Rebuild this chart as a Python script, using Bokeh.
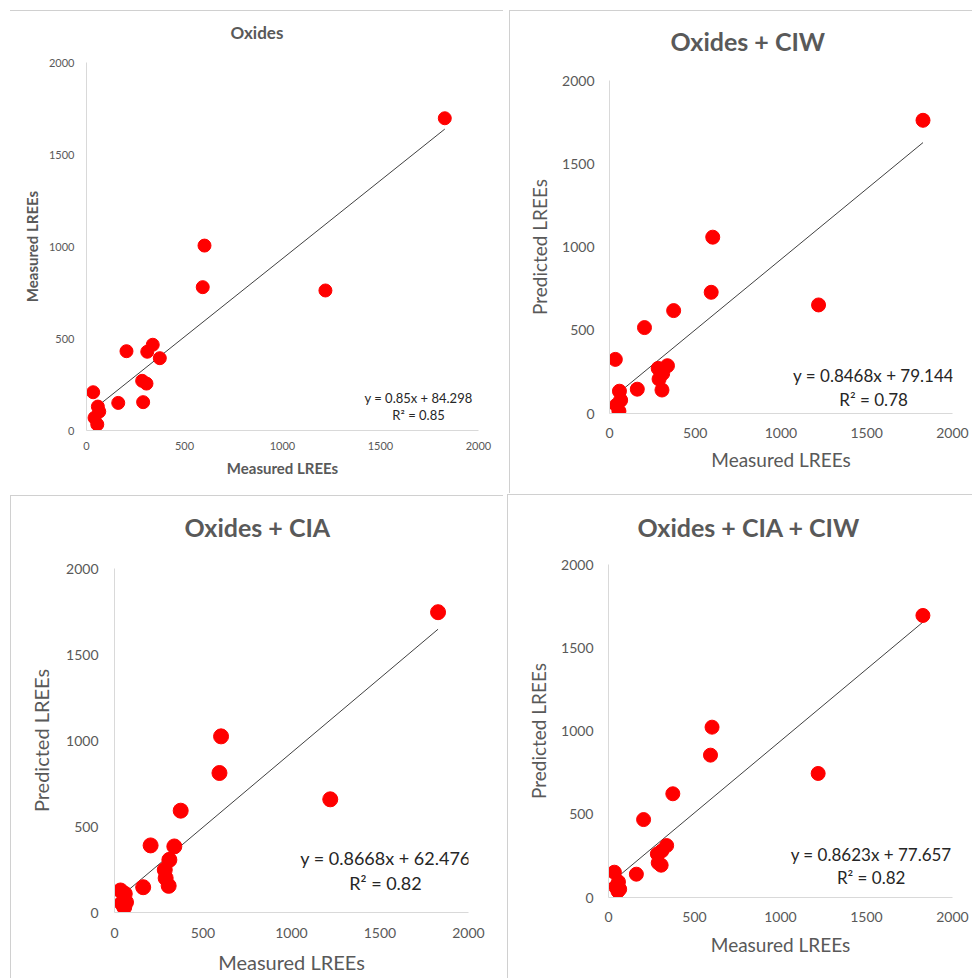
from bokeh.plotting import figure
from bokeh.models import Range1d, FixedTicker, Label, ColumnDataSource, Title
from bokeh.embed import file_html
from bokeh.resources import INLINE

# ---------------- data ----------------
measured = [34, 41, 55, 58, 65, 162, 204, 284, 289, 306, 310, 338, 374, 593, 602, 1219, 1828]
pred_oxides = [208, 69, 33, 130, 103, 150, 431, 270, 154, 255, 428, 466, 393, 779, 1005, 761, 1697]
pred_oxides_ciw = [325, 50, 14, 134, 80, 146, 516, 271, 207, 141, 240, 287, 618, 728, 1059, 652, 1761]
pred_oxides_cia = [128, 54, 31, 109, 60, 147, 390, 248, 200, 155, 306, 384, 592, 811, 1024, 658, 1746]
pred_oxides_cia_ciw = [152, 64, 38, 94, 50, 140, 468, 262, 208, 194, 280, 312, 623, 855, 1023, 745, 1694]

titles = ["Oxides", "Oxides + CIW", "Oxides + CIA", "Oxides + CIA + CIW"]
slopes = [0.85, 0.8468, 0.8668, 0.8623]
intercepts = [84.298, 79.144, 62.476, 77.657]
equations = ["y = 0.85x + 84.298", "y = 0.8468x + 79.144", "y = 0.8668x + 62.476", "y = 0.8623x + 77.657"]
r_squared = ["R² = 0.85", "R² = 0.78", "R² = 0.82", "R² = 0.82"]
x_label = "Measured LREEs"
y_labels = ["Measured LREEs", "Predicted LREEs", "Predicted LREEs", "Predicted LREEs"]
ticks = [0, 500, 1000, 1500, 2000]
eq_pos_x = [1694, 1540, 1531, 1527]
eq_line1_y = [179, 231, 316, 258]
eq_line2_y = [82, 86, 171, 118]

series = [pred_oxides, pred_oxides_ciw, pred_oxides_cia, pred_oxides_cia_ciw]

# ---------------- layout / style ----------------
FONT = "Lato"
GRAY = "#595959"
AXIS = "#d9d9d9"
BORDER = "#d0d0d0"

cfg = [
    dict(left=10, top=10, w=493, h=483, ml=76, mr=25, mt=51, mb=64, bl=False,
         tick=11, lab=15, lab_bold=True, title=17, eq=13, ms=13,
         t_off=144, spacer=17, lab_sx=5, lab_sy=6, tick_sx=12, tick_sy=11),
    dict(left=509, top=10, w=463, h=483, ml=99, mr=21, mt=69, mb=81, bl=True,
         tick=14, lab=19, lab_bold=False, title=25, eq=17, ms=14,
         t_off=61, spacer=22, lab_sx=8, lab_sy=7, tick_sx=15, tick_sy=14),
    dict(left=10, top=495, w=493, h=483, ml=103, mr=36, mt=72, mb=67, bl=True,
         tick=14, lab=20, lab_bold=False, title=25, eq=18, ms=15,
         t_off=70, spacer=24, lab_sx=10, lab_sy=9, tick_sx=16, tick_sy=15),
    dict(left=507, top=494, w=465, h=484, ml=100, mr=21, mt=69, mb=82, bl=True,
         tick=14, lab=19, lab_bold=False, title=25, eq=17, ms=14,
         t_off=29, spacer=20, lab_sx=8, lab_sy=8, tick_sx=15, tick_sy=14),
]

figs = []
for i, c in enumerate(cfg):
    css = {"position": "absolute", "left": f"{c['left']}px", "top": f"{c['top']}px",
           "border-top": f"1px solid {BORDER}"}
    if c["bl"]:
        css["border-left"] = f"1px solid {BORDER}"
    p = figure(width=c["w"], height=c["h"], x_range=Range1d(0, 2000), y_range=Range1d(0, 2000),
               output_backend="svg", toolbar_location=None,
               min_border_left=c["ml"], min_border_right=c["mr"],
               min_border_top=c["mt"], min_border_bottom=c["mb"],
               styles=css)
    p.outline_line_color = None
    p.grid.visible = False
    p.background_fill_color = "white"
    p.border_fill_color = "white"

    # spacer panel between the frame and the title
    p.add_layout(Title(text=" ", text_font_size="1px", standoff=c["spacer"]), "above")

    p.title.text = titles[i]
    p.title.align = "left"
    p.title.offset = c["t_off"]
    p.title.standoff = 0
    p.title.text_font = FONT
    p.title.text_font_size = f"{c['title']}px"
    p.title.text_font_style = "bold"
    p.title.text_color = GRAY

    for ax in (p.xaxis[0], p.yaxis[0]):
        ax.ticker = FixedTicker(ticks=ticks)
        ax.axis_line_color = AXIS
        ax.axis_line_width = 1
        ax.major_tick_line_color = None
        ax.minor_tick_line_color = None
        ax.major_tick_out = 0
        ax.major_tick_in = 0
        ax.minor_tick_out = 0
        ax.minor_tick_in = 0
        ax.major_label_text_color = GRAY
        ax.major_label_text_font = FONT
        ax.major_label_text_font_size = f"{c['tick']}px"
        ax.axis_label_text_color = GRAY
        ax.axis_label_text_font = FONT
        ax.axis_label_text_font_size = f"{c['lab']}px"
        ax.axis_label_text_font_style = "bold" if c["lab_bold"] else "normal"
    p.xaxis[0].axis_label = x_label
    p.yaxis[0].axis_label = y_labels[i]
    p.xaxis[0].major_label_standoff = c["tick_sy"]
    p.yaxis[0].major_label_standoff = c["tick_sx"]
    p.xaxis[0].axis_label_standoff = c["lab_sy"]
    p.yaxis[0].axis_label_standoff = c["lab_sx"]

    # trend line from the fitted coefficients
    x0, x1 = min(measured), max(measured)
    p.line([x0, x1], [slopes[i] * x0 + intercepts[i], slopes[i] * x1 + intercepts[i]],
           line_color="#404040", line_width=1)

    src = ColumnDataSource(dict(x=measured, y=series[i]))
    p.scatter("x", "y", source=src, size=c["ms"], fill_color="#ff0000", line_color="#ff0000")

    p.add_layout(Label(x=eq_pos_x[i], y=eq_line1_y[i], text=equations[i], text_align="center",
                       text_baseline="middle", text_font=FONT, text_color="#262626",
                       text_font_size=f"{c['eq']}px"))
    p.add_layout(Label(x=eq_pos_x[i], y=eq_line2_y[i], text=r_squared[i], text_align="center",
                       text_baseline="middle", text_font=FONT, text_color="#262626",
                       text_font_size=f"{c['eq']}px"))
    figs.append(p)

with open("out.html", "w") as f:
    f.write(file_html(figs, INLINE))
